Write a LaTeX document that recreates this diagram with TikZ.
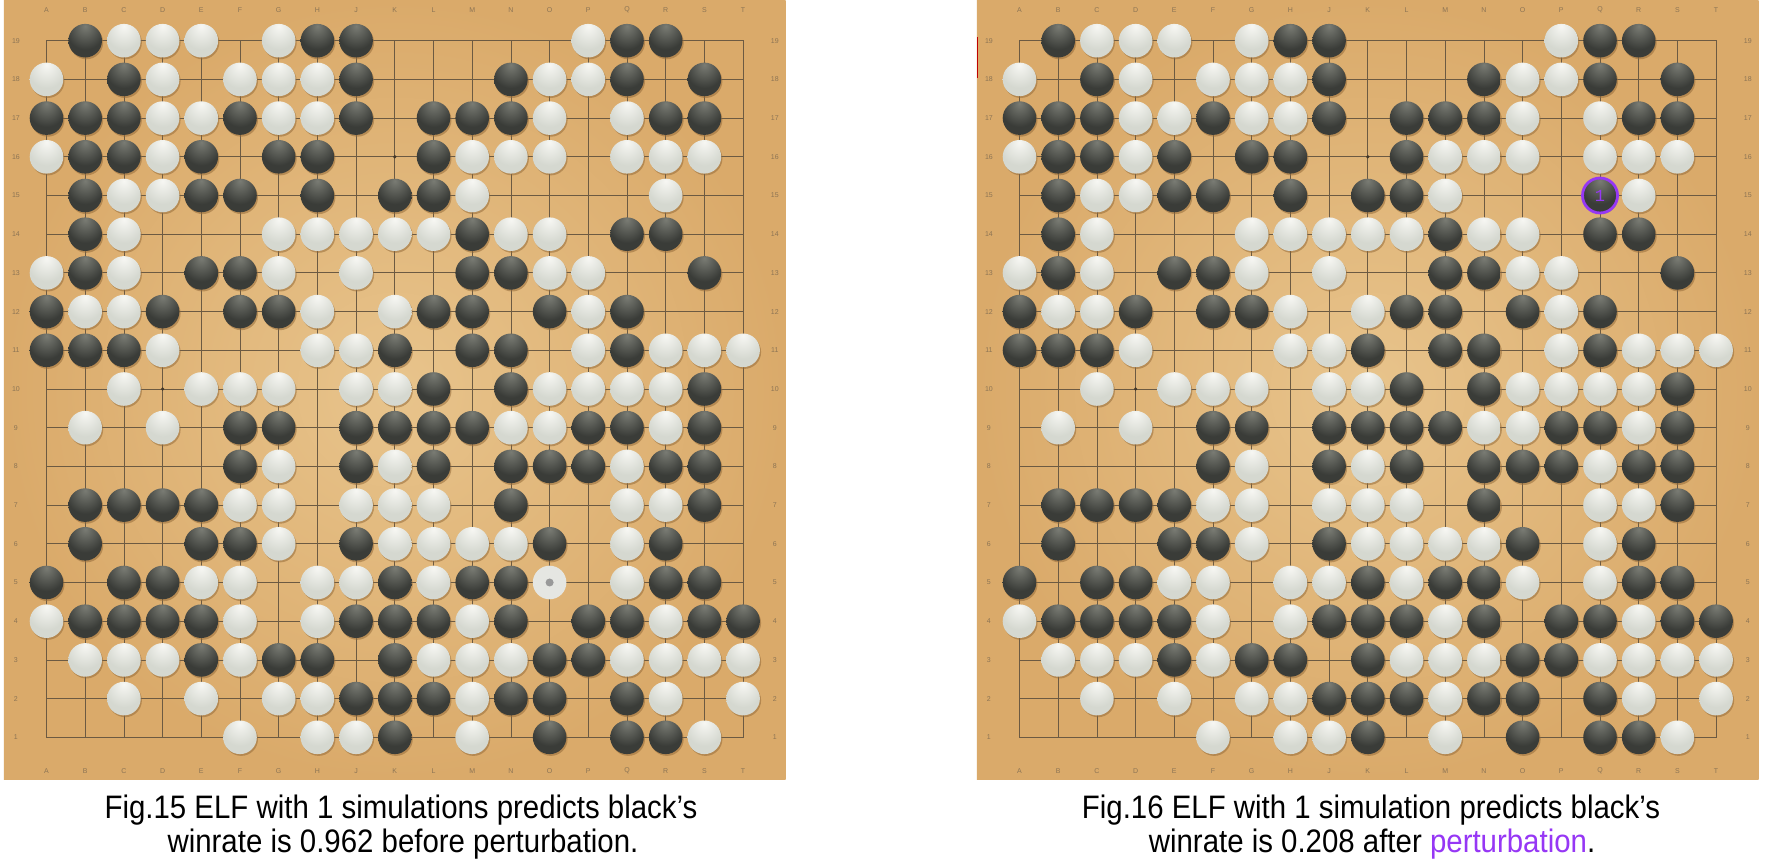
\documentclass[tikz,border=0pt]{standalone}
\usepackage{fontspec}
\setmainfont{Liberation Sans}
\newfontfamily\capfont{Liberation Sans}[FakeStretch=0.905]
\newfontfamily\markfont{Liberation Mono}

\definecolor{woodlight}{RGB}{232,196,140}
\definecolor{wooddark}{RGB}{218,170,106}
\definecolor{gridline}{RGB}{108,90,66}
\definecolor{labelcol}{RGB}{140,116,84}
\definecolor{bstone}{RGB}{58,60,56}
\definecolor{bstonehi}{RGB}{122,124,116}
\definecolor{wstone}{RGB}{213,216,208}
\definecolor{wstonehi}{RGB}{247,247,243}
\definecolor{stoneshade}{RGB}{150,108,58}
\definecolor{flatwhite}{RGB}{229,230,226}
\definecolor{perturb}{RGB}{150,55,245}

\pgfdeclareradialshading{blackstone}{\pgfpoint{0bp}{22bp}}{color(0bp)=(bstonehi); color(28bp)=(bstone); color(90bp)=(bstone)}
\pgfdeclareradialshading{whitestone}{\pgfpoint{0bp}{22bp}}{color(0bp)=(wstonehi); color(28bp)=(wstone); color(90bp)=(wstone)}

\tikzset{
  board/.style={shading=radial, inner color=woodlight, outer color=wooddark},
  gridln/.style={draw=gridline, line width=0.8pt},
  coordlabel/.style={text=labelcol, font=\fontsize{7}{7}\selectfont, inner sep=0pt},
  shadowstone/.style={fill=stoneshade, opacity=0.55},
  blackst/.style={shading=blackstone},
  whitest/.style={shading=whitestone},
  caption/.style={font=\capfont\fontsize{32.5}{34}\selectfont, anchor=base, inner sep=0pt},
}

\def\blacklist{2/19,8/19,9/19,16/19,17/19,
  3/18,9/18,13/18,16/18,18/18,
  1/17,2/17,3/17,6/17,9/17,11/17,12/17,13/17,17/17,18/17,
  2/16,3/16,5/16,7/16,8/16,11/16,
  2/15,5/15,6/15,8/15,10/15,11/15,
  2/14,12/14,16/14,17/14,
  2/13,5/13,6/13,12/13,13/13,18/13,
  1/12,4/12,6/12,7/12,11/12,12/12,14/12,16/12,
  1/11,2/11,3/11,10/11,12/11,13/11,16/11,
  11/10,13/10,18/10,
  6/9,7/9,9/9,10/9,11/9,12/9,15/9,16/9,18/9,
  6/8,9/8,11/8,13/8,14/8,15/8,17/8,18/8,
  2/7,3/7,4/7,5/7,13/7,18/7,
  2/6,5/6,6/6,9/6,14/6,17/6,
  1/5,3/5,4/5,10/5,12/5,13/5,17/5,18/5,
  2/4,3/4,4/4,5/4,9/4,10/4,11/4,13/4,15/4,16/4,18/4,19/4,
  5/3,7/3,8/3,10/3,14/3,15/3,
  9/2,10/2,11/2,13/2,14/2,16/2,
  10/1,14/1,16/1,17/1}

\def\whitelist{3/19,4/19,5/19,7/19,15/19,
  1/18,4/18,6/18,7/18,8/18,14/18,15/18,
  4/17,5/17,7/17,8/17,14/17,16/17,
  1/16,4/16,12/16,13/16,14/16,16/16,17/16,18/16,
  3/15,4/15,12/15,17/15,
  3/14,7/14,8/14,9/14,10/14,11/14,13/14,14/14,
  1/13,3/13,7/13,9/13,14/13,15/13,
  2/12,3/12,8/12,10/12,15/12,
  4/11,8/11,9/11,15/11,17/11,18/11,19/11,
  3/10,5/10,6/10,7/10,9/10,10/10,14/10,15/10,16/10,17/10,
  2/9,4/9,13/9,14/9,17/9,
  7/8,10/8,16/8,
  6/7,7/7,9/7,10/7,11/7,16/7,17/7,
  7/6,10/6,11/6,12/6,13/6,16/6,
  5/5,6/5,8/5,9/5,11/5,16/5,
  1/4,6/4,8/4,12/4,17/4,
  2/3,3/3,4/3,6/3,11/3,12/3,13/3,16/3,17/3,18/3,19/3,
  3/2,5/2,7/2,8/2,12/2,17/2,19/2,
  6/1,8/1,9/1,12/1,18/1}

% #1,#2 shift of the board, #3 name prefix, #4 extra marks
\newcommand{\goboard}[4]{%
\begin{scope}[shift={(#1pt,#2pt)}, x=38.7pt, y=38.7pt]
  \shade[board] (-0.1,-0.08) rectangle (20.1,20.05);
  \foreach \i in {1,...,19} {
    \draw[gridln] (\i,1) -- (\i,19);
    \draw[gridln] (1,\i) -- (19,\i);
  }
  \draw[gridln, line width=1.2pt] (1,1) rectangle (19,19);
  \foreach \l [count=\i] in {A,B,C,D,E,F,G,H,J,K,L,M,N,O,P,Q,R,S,T} {
    \node[coordlabel] (#3top\i) at (\i,19.79) {\l};
    \node[coordlabel] (#3bot\i) at (\i,0.13) {\l};
    \node[coordlabel] (#3left\i) at (0.21,\i) {\i};
    \node[coordlabel] (#3right\i) at (19.82,\i) {\i};
  }
  \foreach \sx in {4,10,16}
    \foreach \sy in {4,10,16}
      \fill[gridline!60!black] (\sx,\sy) circle (1.8pt);
  \foreach \c/\r in \blacklist {
    \fill[shadowstone] ([xshift=1.2pt,yshift=-1.8pt]\c,\r) circle (16.8pt);
    \shade[blackst] (\c,\r) circle (16.8pt);
  }
  \foreach \c/\r in \whitelist {
    \fill[shadowstone] ([xshift=1.2pt,yshift=-1.8pt]\c,\r) circle (16.8pt);
    \shade[whitest] (\c,\r) circle (16.8pt);
  }
  #4
\end{scope}}

\begin{document}
\begin{tikzpicture}[x=1pt, y=1pt]
  \useasboundingbox (0,0) rectangle (1769,860);
  \fill[white] (0,0) rectangle (1769,860);

  \goboard{7.8}{84}{a}{%
    \fill[flatwhite] (14,5) circle (16.8pt);
    \fill[black!40] (14,5) circle (4pt);
  }
  \goboard{980.8}{84}{b}{%
    \fill[shadowstone] ([xshift=1.2pt,yshift=-1.8pt]14,5) circle (16.8pt);
    \shade[whitest] (14,5) circle (16.8pt);
    \fill[shadowstone] ([xshift=1.2pt,yshift=-1.8pt]16,15) circle (16.8pt);
    \shade[blackst] (16,15) circle (16.8pt);
    \draw[perturb, line width=2.8pt] (16,15) circle (17.5pt);
    \node[text=perturb, font=\markfont\fontsize{17}{17}\selectfont, inner sep=0pt] (move1) at (16,15) {1};
  }
  \draw[red!75!black, line width=1pt] (977,823) -- (977,782);

  \node[caption] (cap15a) at (401,42) {Fig.15 ELF with 1 simulations predicts black’s};
  \node[caption] (cap15b) at (403,8) {winrate is 0.962 before perturbation.};
  \node[caption] (cap16a) at (1371,42) {Fig.16 ELF with 1 simulation predicts black’s};
  \node[caption] (cap16b) at (1372,8) {winrate is 0.208 after \textcolor{perturb}{perturbation}.};
\end{tikzpicture}
\end{document}
